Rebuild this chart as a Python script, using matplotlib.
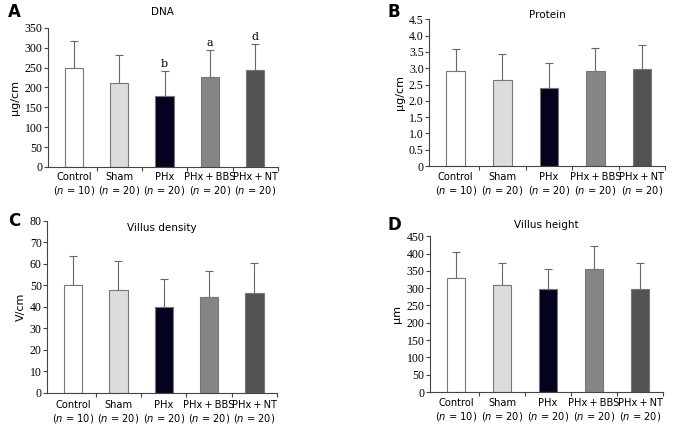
import numpy as np
import matplotlib.pyplot as plt

groups = ['Control', 'Sham', 'PHx', 'PHx\u2009+\u2009BBS', 'PHx\u2009+\u2009NT']
n_vals = [10, 20, 20, 20, 20]
bar_colors = ['#ffffff', '#dcdcdc', '#03031f', '#858585', '#525252']

dna_mean = [248, 212, 178, 226, 243]
dna_err = [70, 70, 63, 68, 67]
dna_marks = ['', '', 'b', 'a', 'd']

protein_mean = [2.9, 2.65, 2.38, 2.9, 2.98]
protein_err = [0.7, 0.8, 0.77, 0.72, 0.74]

density_mean = [50, 48, 40, 44.5, 46.5]
density_err = [13.5, 13.5, 13, 12, 14]

height_mean = [330, 308, 298, 355, 298]
height_err = [75, 64, 57, 67, 74]


def draw_panel(ax, means, errs, ylim, yticks, ylabel, title, title_y, marks=None, fmt='{:g}'):
    x = np.arange(len(groups))
    ax.bar(x, means, width=0.4, color=bar_colors, edgecolor='#777777', linewidth=0.8, zorder=2)
    ax.errorbar(x, means, yerr=[np.zeros(len(errs)), errs], fmt='none',
                ecolor='#666666', elinewidth=0.8, capsize=3, capthick=0.8, zorder=1)
    if marks:
        for xi, m, e, t in zip(x, means, errs, marks):
            if t:
                ax.text(xi, m + e + ylim[1] * 0.015, t, ha='center', va='bottom',
                        fontsize=8, family='DejaVu Serif')
    ax.set_xlim(-0.57, 4.5)
    ax.set_ylim(*ylim)
    ax.set_yticks(yticks)
    ax.set_yticklabels([fmt.format(v) for v in yticks], family='Liberation Serif', fontsize=8.5)
    ax.set_xticks([0.5, 1.5, 2.5, 3.5, 4.5])
    ax.set_xticklabels([])
    ax.tick_params(axis='x', length=3, width=0.8, color='#444444')
    ax.tick_params(axis='y', length=3, width=0.8, color='#444444', pad=1)
    for i, (g, n) in enumerate(zip(groups, n_vals)):
        ax.text(i, -0.04, g + '\n' + r'($n$ = %d)' % n, transform=ax.get_xaxis_transform(),
                ha='center', va='top', fontsize=7.1, linespacing=1.2)
    ax.spines['top'].set_visible(False)
    ax.spines['right'].set_visible(False)
    ax.spines['left'].set_color('#444444')
    ax.spines['bottom'].set_color('#444444')
    ax.set_ylabel(ylabel, fontsize=8, labelpad=3)
    ax.text(0.5, title_y, title, transform=ax.transAxes, ha='center', va='center', fontsize=7.5)


fig = plt.figure(figsize=(6.76, 4.28), dpi=100)

axA = fig.add_axes([0.071, 0.610, 0.340, 0.325])
draw_panel(axA, dna_mean, dna_err, (0, 350), [0, 50, 100, 150, 200, 250, 300, 350],
           'μg/cm', 'DNA', 1.115, marks=dna_marks)

axB = fig.add_axes([0.635, 0.612, 0.349, 0.343])
draw_panel(axB, protein_mean, protein_err, (0, 4.5), [0, 0.5, 1.0, 1.5, 2.0, 2.5, 3.0, 3.5, 4.0, 4.5],
           'μg/cm', 'Protein', 1.03, fmt='{:.1f}')
axB.set_yticklabels(['0'] + ['%.1f' % v for v in [0.5, 1.0, 1.5, 2.0, 2.5, 3.0, 3.5, 4.0, 4.5]],
                    family='Liberation Serif', fontsize=8.5)

axC = fig.add_axes([0.070, 0.082, 0.340, 0.402])
draw_panel(axC, density_mean, density_err, (0, 80), [0, 10, 20, 30, 40, 50, 60, 70, 80],
           'V/cm', 'Villus density', 0.96)

axD = fig.add_axes([0.636, 0.084, 0.345, 0.364])
draw_panel(axD, height_mean, height_err, (0, 450), [0, 50, 100, 150, 200, 250, 300, 350, 400, 450],
           'μm', 'Villus height', 1.07)

fig.text(0.012, 0.972, 'A', fontsize=12, fontweight='bold', va='center')
fig.text(0.573, 0.972, 'B', fontsize=12, fontweight='bold', va='center')
fig.text(0.012, 0.483, 'C', fontsize=12, fontweight='bold', va='center')
fig.text(0.573, 0.475, 'D', fontsize=12, fontweight='bold', va='center')

fig.savefig('out.png', dpi=100)
